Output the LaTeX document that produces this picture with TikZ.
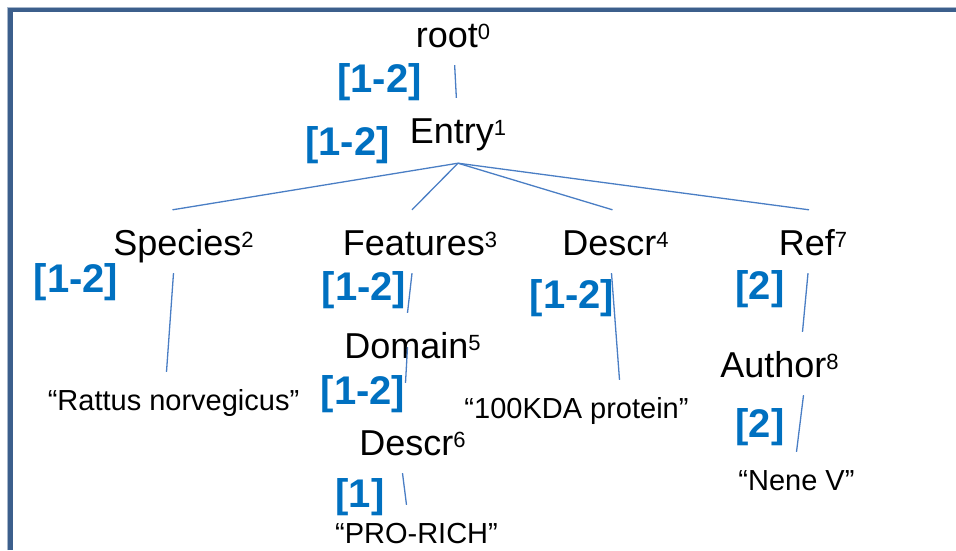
\documentclass[tikz,border=0pt]{standalone}
\usepackage{fontspec}
\setmainfont{Liberation Sans}
\usetikzlibrary{positioning}

\definecolor{framecol}{RGB}{60,95,140}
\definecolor{tagblue}{RGB}{0,112,192}
\definecolor{edgeblue}{RGB}{74,126,196}

% small raised node number
\newcommand\nr[1]{\raisebox{8pt}{\fontsize{22}{22}\selectfont #1}}

\begin{document}
\begin{tikzpicture}
  [x=1pt, y=-1pt,
  elem/.style={anchor=base, inner xsep=0pt, inner ysep=10pt,
         text height=35pt, text depth=8pt,
         font=\fontsize{36}{40}\selectfont},
  leaf/.style={anchor=base, inner xsep=0pt, inner ysep=10pt,
         text height=28pt, text depth=8pt,
         font=\fontsize{29}{32}\selectfont},
  tag/.style={inner sep=0pt, text=tagblue,
         font=\fontsize{40}{44}\selectfont\bfseries}
  ]
  \useasboundingbox (0,0) rectangle (956,550);

  % frame, only top and left edge show
  \draw [framecol!45, line width=1pt] (7.5,550) |- (956,7.2);
  \draw [framecol, line width=4.8pt] (10.8,550) |- (956,10);

  % element tree
  \node (root)     [elem] at (453,47)    {root\nr{0}};
  \node (entry)    [elem] at (458,143)   {Entry\nr{1}};
  \node (species)  [elem] at (183.5,255) {Species\nr{2}};
  \node (features) [elem] at (420,255)   {Features\nr{3}};
  \node (descrA)   [elem] at (615.5,255) {Descr\nr{4}};
  \node (ref)      [elem] at (813,255)   {Ref\nr{7}};
  \node (domain)   [elem] at (412.5,358) {Domain\nr{5}};
  \node (descrB)   [elem] at (412.5,455) {Descr\nr{6}};
  \node (author)   [elem] at (779.5,377) {Author\nr{8}};

  % text values
  \node (rattus)  [leaf] at (173.5,410) {“Rattus norvegicus”};
  \node (kda)     [leaf] at (576.5,418) {“100KDA protein”};
  \node (prorich) [leaf] at (416.5,543) {“PRO-RICH”};
  \node (nene)    [leaf] at (796.5,490) {“Nene V”};

  % cardinalities
  \node (cRoot)     [tag] at (379.5,82)  {[1-2]};
  \node (cEntry)    [tag] at (347.5,145) {[1-2]};
  \node (cSpecies)  [tag] at (76,282)    {[1-2]};
  \node (cFeatures) [tag] at (364,290)   {[1-2]};
  \node (cDescrA)   [tag] at (572,298)   {[1-2]};
  \node (cRef)      [tag] at (760,289)   {[2]};
  \node (cDomain)   [tag] at (363,394)   {[1-2]};
  \node (cDescrB)   [tag] at (360,497)   {[1]};
  \node (cAuthor)   [tag] at (760,427)   {[2]};

  \begin{scope}[line width=1.3pt, draw=edgeblue]
   \draw (root) to (entry);
   \draw ([yshift=-2pt]entry.south) to ([xshift=-11pt]species.north);
   \draw ([yshift=-2pt]entry.south) to ([xshift=-8pt]features.north);
   \draw ([yshift=-2pt]entry.south) to ([xshift=-3pt]descrA.north);
   \draw ([yshift=-2pt]entry.south) to ([xshift=-4pt]ref.north);
   \draw ([xshift=-10pt]species.south) to ([xshift=-7pt]rattus.north);
   \draw ([xshift=-8pt]features.south) to ([xshift=-5pt]domain.north);
   \draw ([xshift=-4pt]descrA.south) to ([xshift=43pt]kda.north);
   \draw ([xshift=-5pt]ref.south) to ([xshift=23pt]author.north);
   \draw ([xshift=-5pt,yshift=29pt]domain.south) to ([xshift=-7pt,yshift=27pt]descrB.north);
   \draw ([xshift=-10pt]descrB.south) to ([xshift=-10pt]prorich.north);
   \draw ([xshift=24pt]author.south) to (nene.north);
  \end{scope}

\end{tikzpicture}
\end{document}
